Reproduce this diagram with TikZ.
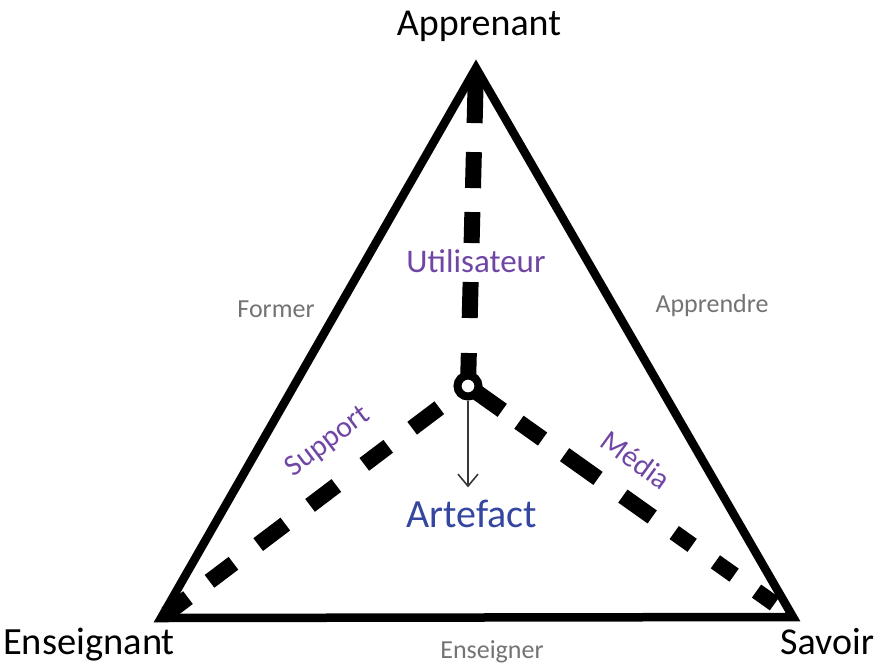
\documentclass[tikz,border=0pt]{standalone}
\usepackage{fontspec}
\setmainfont{Carlito}
\usetikzlibrary{arrows.meta}
\definecolor{purp}{RGB}{112,70,165}
\definecolor{grayt}{RGB}{115,115,115}
\definecolor{bluet}{RGB}{52,70,160}
\definecolor{arrowc}{RGB}{55,55,55}
\begin{document}
\begin{tikzpicture}[x=1pt,y=-1pt,
  tri/.style={line width=8.5pt, line join=miter},
  dashline/.style={line width=16pt, line cap=butt},
  ring/.style={circle, draw, line width=8pt, fill=white, minimum size=21pt, inner sep=0pt},
  big/.style={inner sep=0pt, font=\fontsize{38}{40}\selectfont},
  rel/.style={inner sep=0pt, text=grayt, font=\fontsize{26}{28}\selectfont},
  role/.style={inner sep=0pt, text=purp, font=\fontsize{30}{32}\selectfont},
  artarrow/.style={draw=arrowc, line width=1.6pt, -{Straight Barb[length=12pt,width=20pt]}}
]
\useasboundingbox (0,0) rectangle (878,665);
\coordinate (A) at (476,68);
\coordinate (E) at (161,618);
\coordinate (S) at (793,617);
\coordinate (O) at (468,386);
% dashed spokes
\draw[dashline, dash pattern=on 33pt off 35pt on 36pt off 39pt on 31pt off 24pt on 36pt off 29pt on 48pt off 200pt] (O) -- (A);
\draw[dashline, dash pattern=on 0pt off 36pt on 34pt off 30pt on 30pt off 35pt on 33pt off 31pt on 34pt off 31pt on 30pt off 27pt on 27pt off 200pt] (O) -- (E);
\draw[dashline, dash pattern=on 42pt off 20.5pt on 29pt off 27pt on 41pt off 30.5pt on 36pt off 27pt on 22pt off 28.5pt on 23pt off 27.5pt on 22pt off 200pt] (O) -- (S);
% triangle
\draw[tri] (A) -- (E) -- (S) -- cycle;
% centre ring
\node[ring] (C) at (O) {};
% labels
\node[big, anchor=base] (lapp) at (479,35) {Apprenant};
\node[big, anchor=base west, font=\fontsize{38.5}{40}\selectfont] (lens) at (3,654) {Enseignant};
\node[big, anchor=base west] (lsav) at (780,654) {Savoir};
\node[rel, anchor=base] (lfor) at (276,317) {Former};
\node[rel, anchor=base] (lapr) at (712,312) {Apprendre};
\node[rel, anchor=base] (lensg) at (492,658) {Enseigner};
\node[role, anchor=base, font=\fontsize{33}{35}\selectfont] (luti) at (476,272) {Utilisateur};
\node[role, rotate=37] (lsup) at (328,442) {Support};
\node[role, rotate=-36] (lmed) at (636,460) {Média};
\node[inner sep=0pt, text=bluet, font=\fontsize{40}{42}\selectfont, anchor=base] (lart) at (472,527) {Artefact};
\draw[artarrow] (C.south) -- ([yshift=12pt]C.south |- lart.north);
\end{tikzpicture}
\end{document}
